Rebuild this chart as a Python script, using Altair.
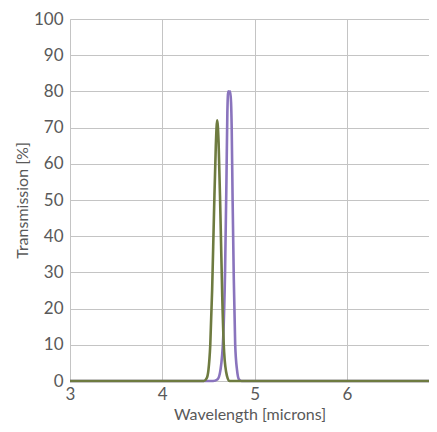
import altair as alt
import pandas as pd

# Purple filter (centre ~4.73 microns, peak ~80 %)
purple_x = [3.0, 4.55, 4.60, 4.63, 4.66, 4.68, 4.695, 4.705, 4.715, 4.725, 4.735, 4.745, 4.752, 4.762, 4.775, 4.79, 4.81, 4.83, 4.86, 6.89]
purple_y = [0, 0, 0.5, 3, 12, 30, 55, 74, 80, 79.5, 80, 77, 70, 50, 28, 10, 3, 0.5, 0, 0]

# Green filter (centre ~4.595 microns, peak ~72 %)
green_x = [3.0, 4.45, 4.48, 4.50, 4.52, 4.54, 4.56, 4.58, 4.595, 4.61, 4.63, 4.65, 4.67, 4.70, 4.73, 6.89]
green_y = [0, 0, 0.7, 3, 10, 25, 46, 65, 72, 66, 46, 23, 8, 1.5, 0, 0]

x_ticks = [3, 4, 5, 6]
y_ticks = [0, 10, 20, 30, 40, 50, 60, 70, 80, 90, 100]

df_p = pd.DataFrame({"x": purple_x, "y": purple_y})
df_g = pd.DataFrame({"x": green_x, "y": green_y})

FONT = "Lato"
TXT = "#595959"

xscale = alt.Scale(domain=[3, 6.89], nice=False, zero=False)
yscale = alt.Scale(domain=[0, 100], nice=False)

xaxis = alt.Axis(values=x_ticks, title="Wavelength [microns]", grid=True,
                 gridColor="#c4c4c4", gridWidth=1, domain=False, ticks=False,
                 labelFlush=False,
                 labelFont=FONT, labelFontSize=17, labelColor=TXT, labelPadding=5,
                 titleFont=FONT, titleFontSize=16, titleColor=TXT, titleFontWeight="normal",
                 titlePadding=4)
yaxis = alt.Axis(values=y_ticks, title="Transmission [%]", grid=True,
                 gridColor="#c4c4c4", gridWidth=1, domain=True, domainColor="#c4c4c4",
                 ticks=False, labelFlush=False, labelFont=FONT, labelFontSize=17, labelColor=TXT,
                 labelPadding=7, titleFont=FONT, titleFontSize=16, titleColor=TXT,
                 titleFontWeight="normal", titlePadding=3)

purple = alt.Chart(df_p).mark_line(color="#8a74bd", strokeWidth=2.6, interpolate="monotone").encode(
    x=alt.X("x:Q", scale=xscale, axis=xaxis),
    y=alt.Y("y:Q", scale=yscale, axis=yaxis),
)
green = alt.Chart(df_g).mark_line(color="#6e7b40", strokeWidth=2.6, interpolate="monotone").encode(
    x=alt.X("x:Q", scale=xscale, axis=xaxis),
    y=alt.Y("y:Q", scale=yscale, axis=yaxis),
)

chart = alt.layer(purple, green).properties(
    width=359, height=362,
    autosize=alt.AutoSizeParams(type="none"),
    padding={"left": 62, "top": 11, "right": 0, "bottom": 42},
).configure_view(stroke=None)

chart.save("out.html", embed_options={"renderer": "svg", "actions": False})
